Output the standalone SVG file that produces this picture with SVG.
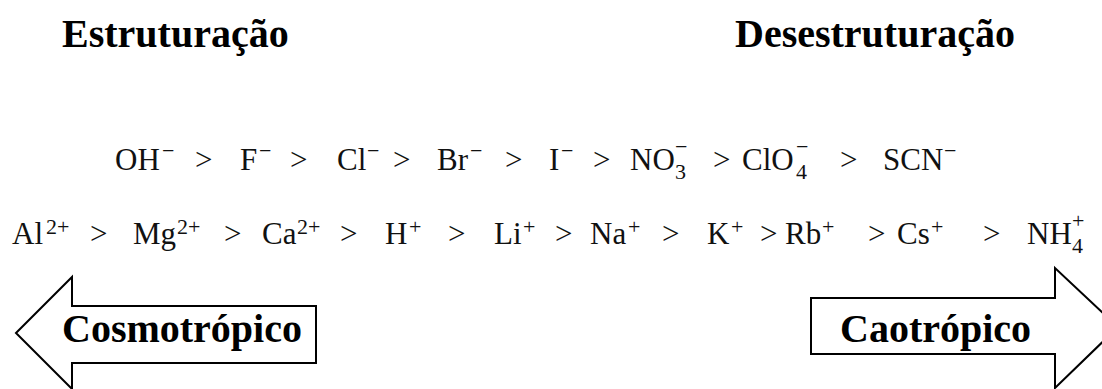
<svg xmlns="http://www.w3.org/2000/svg" width="1102" height="389" viewBox="0 0 1102 389">
<style>
.t{font-family:"Liberation Serif","Times New Roman",serif;font-weight:bold;font-size:40px;fill:#000}
.m{font-family:"Liberation Serif","Times New Roman",serif;font-size:31px;fill:#111}
.s{font-family:"Liberation Serif","Times New Roman",serif;font-size:22px;fill:#111}
.arrow{fill:#fff;stroke:#000;stroke-width:2;stroke-linejoin:miter}
</style>
<rect width="1102" height="389" fill="#fff"/>
<g id="title-left"><text class="t" x="62" y="47">Estruturação</text></g>
<g id="title-right"><text class="t" x="735" y="47">Desestruturação</text></g>
<g id="anions">
<text class="m" x="115" y="170">OH</text><text class="s" x="162" y="158">−</text>
<text class="m" x="195" y="170">&gt;</text>
<text class="m" x="240" y="170">F</text><text class="s" x="259" y="158">−</text>
<text class="m" x="290" y="170">&gt;</text>
<text class="m" x="337" y="170">Cl</text><text class="s" x="367" y="158">−</text>
<text class="m" x="393" y="170">&gt;</text>
<text class="m" x="437" y="170">Br</text><text class="s" x="470" y="158">−</text>
<text class="m" x="505" y="170">&gt;</text>
<text class="m" x="549" y="170">I</text><text class="s" x="561" y="158">−</text>
<text class="m" x="593" y="170">&gt;</text>
<text class="m" x="630" y="170">NO</text><text class="s" x="675" y="179">3</text><text class="s" x="675" y="154">−</text>
<text class="m" x="713" y="170">&gt;</text>
<text class="m" x="742" y="170">ClO</text><text class="s" x="796" y="179">4</text><text class="s" x="796" y="154">−</text>
<text class="m" x="840" y="170">&gt;</text>
<text class="m" x="883" y="170">SCN</text><text class="s" x="944" y="158">−</text>
</g>
<g id="cations">
<text class="m" x="12" y="244">Al</text><text class="s" x="46" y="234">2+</text>
<text class="m" x="90" y="244">&gt;</text>
<text class="m" x="133" y="244">Mg</text><text class="s" x="177" y="234">2+</text>
<text class="m" x="224" y="244">&gt;</text>
<text class="m" x="262" y="244">Ca</text><text class="s" x="297" y="234">2+</text>
<text class="m" x="340" y="244">&gt;</text>
<text class="m" x="385" y="244">H</text><text class="s" x="409" y="234">+</text>
<text class="m" x="448" y="244">&gt;</text>
<text class="m" x="494" y="244">Li</text><text class="s" x="523" y="234">+</text>
<text class="m" x="555" y="244">&gt;</text>
<text class="m" x="590" y="244">Na</text><text class="s" x="628" y="234">+</text>
<text class="m" x="662" y="244">&gt;</text>
<text class="m" x="707" y="244">K</text><text class="s" x="731" y="234">+</text>
<text class="m" x="760" y="244">&gt;</text>
<text class="m" x="785" y="244">Rb</text><text class="s" x="822" y="234">+</text>
<text class="m" x="868" y="244">&gt;</text>
<text class="m" x="897" y="244">Cs</text><text class="s" x="931" y="234">+</text>
<text class="m" x="983" y="244">&gt;</text>
<text class="m" x="1027" y="244">NH</text><text class="s" x="1072" y="253">4</text><text class="s" x="1072" y="228">+</text>
</g>
<g id="arrow-left">
<polygon class="arrow" points="16,333 72,277 72,306 316,306 316,363 72,363 72,389"/>
<text class="t" x="62" y="342">Cosmotrópico</text>
</g>
<g id="arrow-right">
<polygon class="arrow" points="811,298 1055,298 1055,268 1118,327 1055,388 1055,354 811,354"/>
<text class="t" x="840" y="342">Caotrópico</text>
</g>
</svg>
